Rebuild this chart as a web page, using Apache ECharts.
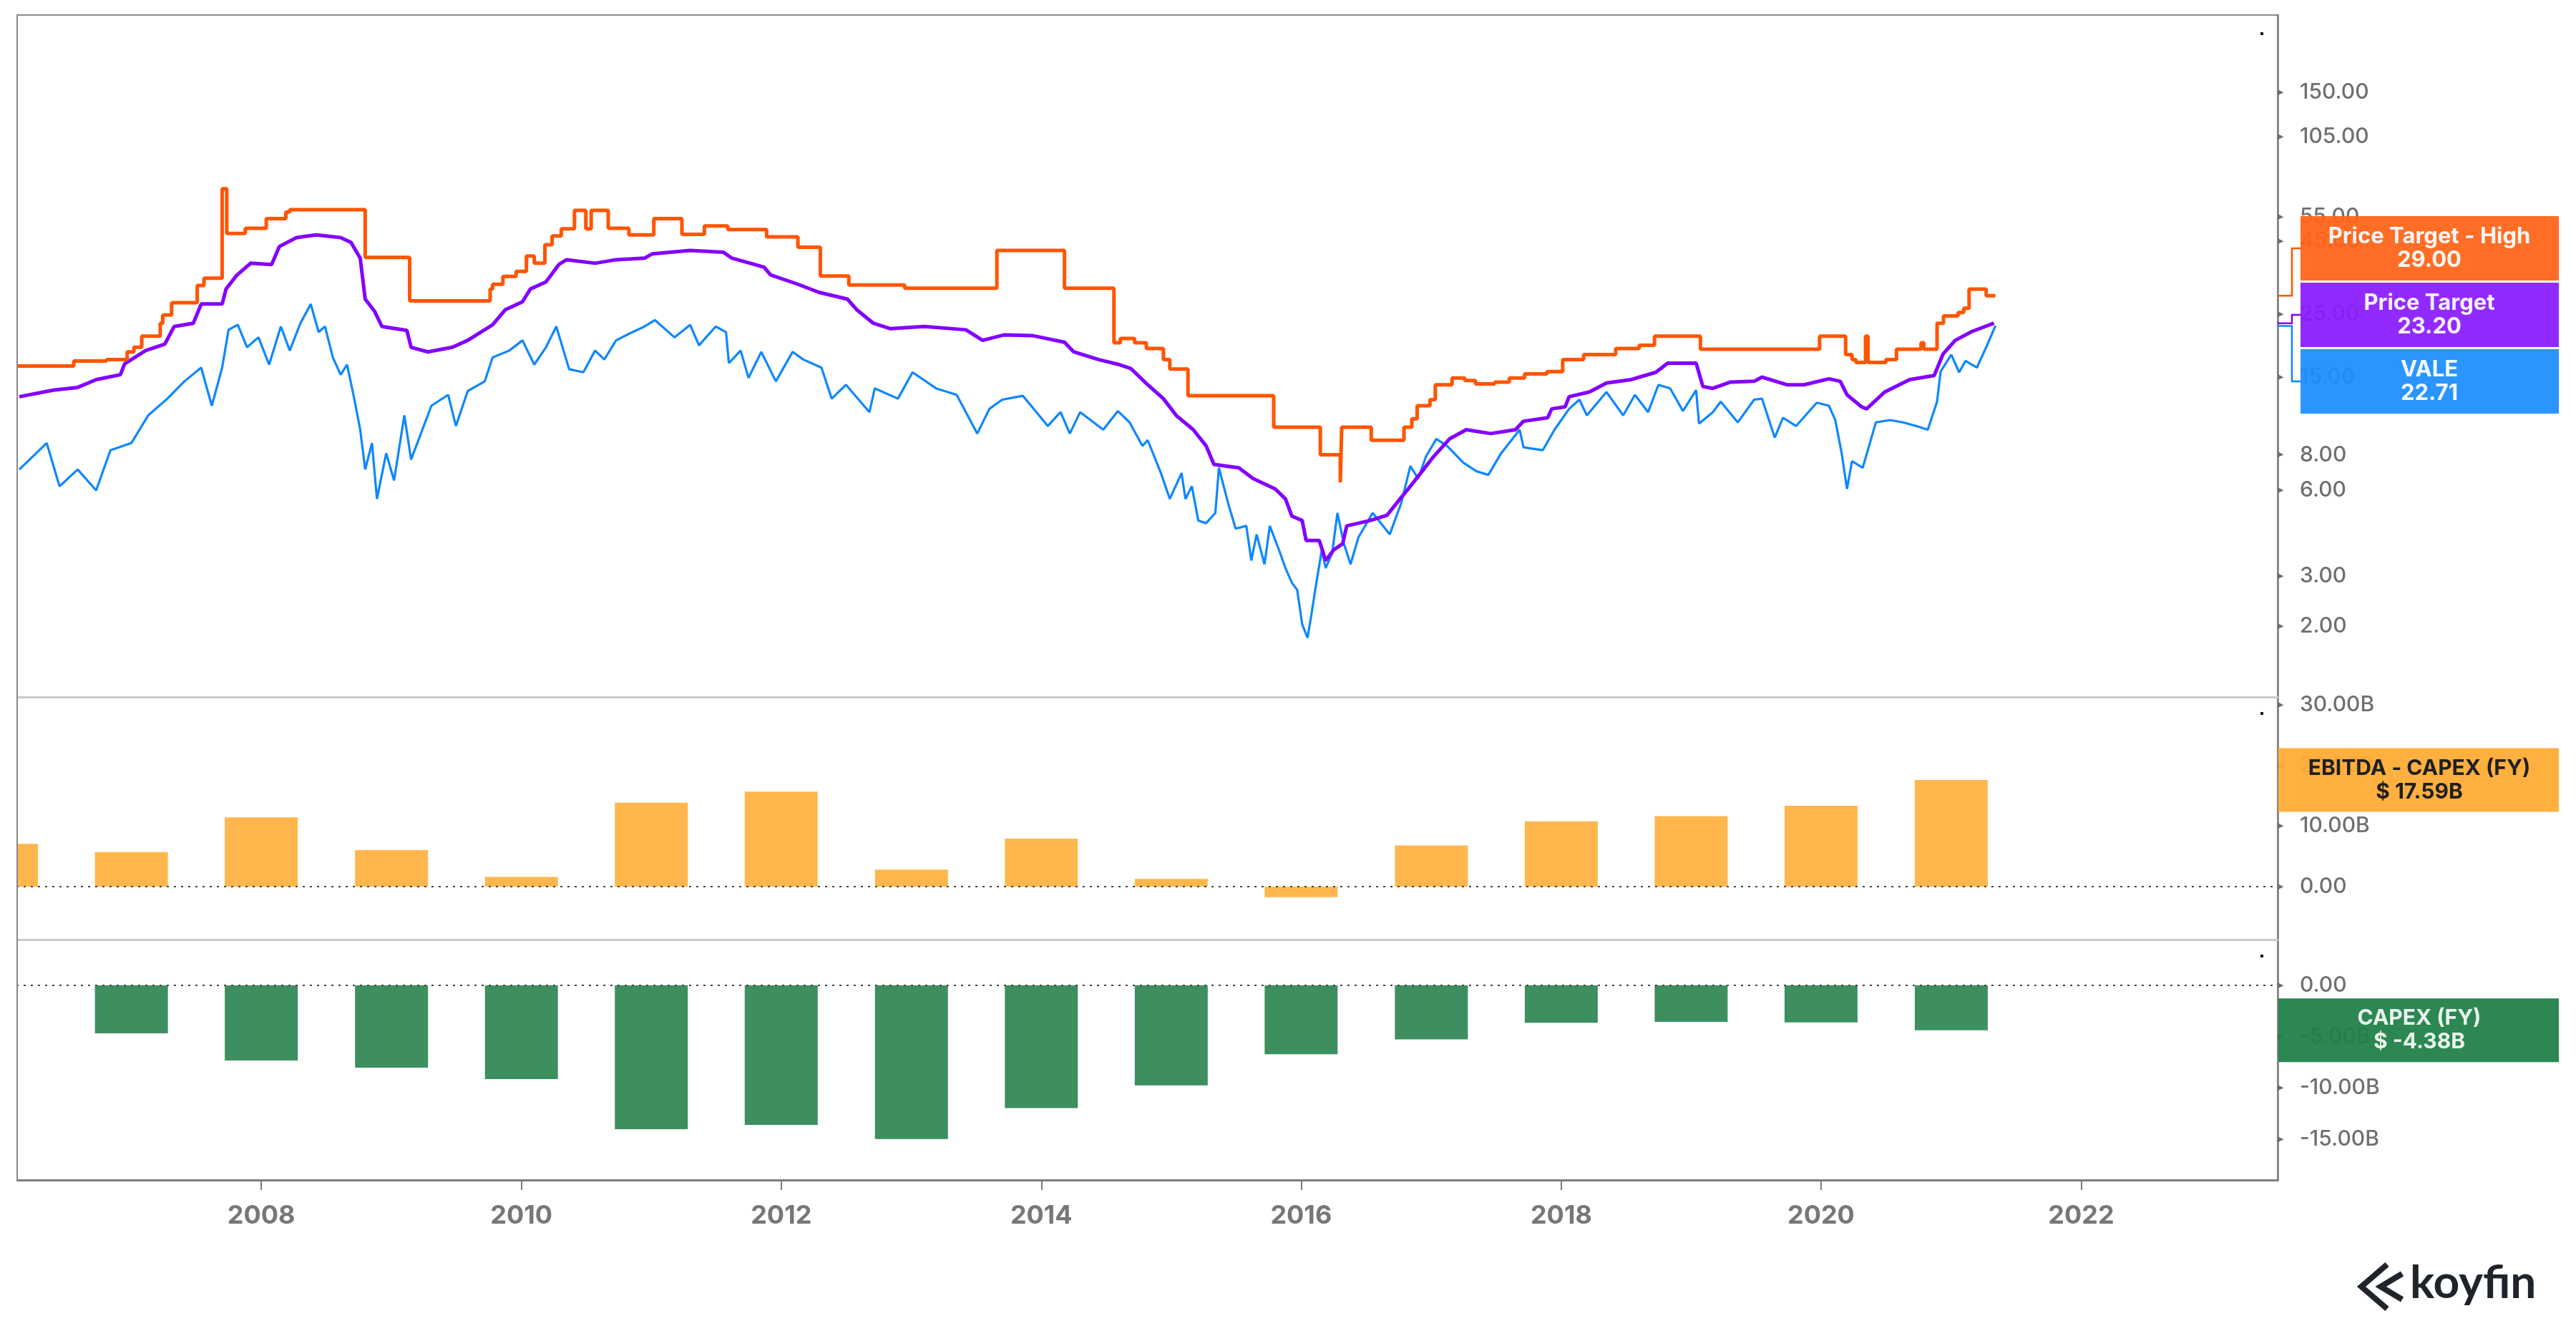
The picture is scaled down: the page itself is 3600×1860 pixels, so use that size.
<!DOCTYPE html>
<html><head><meta charset="utf-8">
<script src="https://cdn.jsdelivr.net/npm/echarts@6/dist/echarts.min.js"></script>
<style>html,body{margin:0;padding:0;background:#fff}#c{width:3600px;height:1860px}</style>
</head><body><div id="c"></div><script>
// ---------- DATA ----------
const valePrice = [
['2006-02-20',7.1],['2006-05-08',8.8],['2006-06-13',6.2],['2006-08-03',7.1],['2006-09-24',6.0],['2006-11-03',8.3],
['2007-01-01',8.8],['2007-02-17',11.0],['2007-04-12',12.6],['2007-05-30',14.5],['2007-07-16',16.2],['2007-08-15',11.9],
['2007-09-13',16.2],['2007-10-01',22.0],['2007-10-27',22.9],['2007-11-22',19.1],['2007-12-24',20.7],['2008-01-23',16.6],
['2008-02-25',22.6],['2008-03-21',18.6],['2008-04-20',23.2],['2008-05-19',27.1],['2008-06-10',21.6],['2008-06-28',22.6],
['2008-07-20',17.6],['2008-08-11',15.3],['2008-08-29',16.6],['2008-09-16',13.0],['2008-10-05',9.8],['2008-10-19',7.1],
['2008-11-07',8.8],['2008-11-21',5.6],['2008-12-17',8.1],['2009-01-08',6.5],['2009-02-06',11.0],['2009-02-25',7.7],
['2009-04-23',11.9],['2009-06-09',13.0],['2009-07-01',10.1],['2009-08-03',13.4],['2009-09-20',14.5],['2009-10-12',17.6],
['2009-11-28',18.6],['2010-01-04',20.2],['2010-02-06',16.6],['2010-03-11',19.1],['2010-04-09',22.6],['2010-05-15',16.0],
['2010-06-24',15.6],['2010-07-27',18.6],['2010-08-22',17.3],['2010-09-24',20.2],['2010-10-30',21.3],['2010-12-13',22.6],
['2011-01-11',23.8],['2011-03-07',20.7],['2011-04-20',22.9],['2011-05-15',19.4],['2011-07-01',22.6],['2011-07-30',21.6],
['2011-08-07',16.8],['2011-09-09',18.6],['2011-10-01',14.9],['2011-11-06',18.4],['2011-12-17',14.5],['2012-02-02',18.4],
['2012-03-03',17.3],['2012-04-23',16.2],['2012-05-22',12.6],['2012-07-01',14.1],['2012-09-05',11.3],['2012-09-20',13.7],
['2012-11-24',12.6],['2013-01-04',15.6],['2013-03-11',13.7],['2013-05-08',13.0],['2013-07-05',9.5],['2013-08-08',11.6],
['2013-09-13',12.5],['2013-11-10',12.9],['2014-01-19',10.1],['2014-02-24',11.3],['2014-03-22',9.5],['2014-04-20',11.3],
['2014-06-24',9.8],['2014-08-04',11.4],['2014-09-06',10.4],['2014-10-12',8.6],['2014-10-27',9.0],['2014-12-03',6.9],
['2014-12-28',5.6],['2015-01-30',6.9],['2015-02-10',5.6],['2015-02-28',6.2],['2015-03-18',4.7],['2015-04-09',4.6],
['2015-05-05',5.0],['2015-05-15',7.2],['2015-06-10',5.4],['2015-07-01',4.4],['2015-07-31',4.5],['2015-08-14',3.4],
['2015-08-29',4.2],['2015-09-20',3.3],['2015-10-05',4.5],['2015-10-31',3.7],['2015-11-18',3.2],['2015-12-06',2.84],
['2015-12-21',2.68],['2016-01-04',2.03],['2016-01-19',1.82],['2016-01-30',2.2],['2016-02-10',2.7],['2016-02-28',3.7],
['2016-03-10',3.2],['2016-03-28',3.6],['2016-04-12',5.0],['2016-04-30',3.9],['2016-05-19',3.3],['2016-06-10',4.1],
['2016-07-20',5.0],['2016-09-06',4.2],['2016-10-08',5.4],['2016-11-03',7.3],['2016-11-25',6.6],['2016-12-17',7.9],
['2017-01-15',9.1],['2017-02-14',8.6],['2017-04-01',7.5],['2017-05-08',7.0],['2017-06-10',6.8],['2017-07-16',8.1],
['2017-09-06',9.8],['2017-09-17',8.5],['2017-11-10',8.3],['2017-12-13',9.8],['2018-01-23',11.6],['2018-02-21',12.5],
['2018-03-14',11.0],['2018-05-08',13.3],['2018-06-24',11.0],['2018-07-27',13.0],['2018-09-02',11.3],['2018-10-01',14.1],
['2018-11-03',13.7],['2018-12-09',11.4],['2019-01-15',13.5],['2019-01-23',10.3],['2019-03-03',11.3],['2019-03-25',12.3],
['2019-05-12',10.4],['2019-06-27',12.5],['2019-07-19',12.6],['2019-08-24',9.2],['2019-09-16',10.8],['2019-10-23',10.1],
['2019-12-20',12.2],['2020-01-23',11.9],['2020-02-10',10.6],['2020-02-28',8.1],['2020-03-14',6.07],['2020-03-28',7.6],
['2020-04-27',7.2],['2020-05-15',8.6],['2020-06-03',10.4],['2020-07-13',10.6],['2020-08-18',10.4],['2020-09-24',10.1],
['2020-10-27',9.8],['2020-11-22',12.3],['2020-12-02',15.7],['2021-01-01',18.0],['2021-01-23',15.6],['2021-02-10',17.1],
['2021-03-14',16.2],['2021-04-09',19.1],['2021-05-05',22.71]
];
const priceTarget = [
['2006-02-20',12.8],['2006-05-26',13.5],['2006-08-03',13.8],['2006-09-24',14.7],['2006-12-01',15.3],['2006-12-13',16.7],
['2007-02-10',18.6],['2007-04-05',19.6],['2007-05-01',22.6],['2007-06-24',23.2],['2007-07-16',27.1],['2007-09-13',27.1],
['2007-09-24',30.6],['2007-10-23',34.1],['2007-12-02',37.7],['2008-01-30',37.3],['2008-02-21',43.2],['2008-04-09',46.4],
['2008-06-03',47.4],['2008-08-11',46.4],['2008-09-09',44.6],['2008-10-05',39.3],['2008-10-19',28.2],['2008-11-14',25.6],
['2008-12-05',22.6],['2009-02-13',21.9],['2009-02-25',19.1],['2009-04-13',18.4],['2009-06-21',19.1],['2009-08-03',20.2],
['2009-10-12',22.9],['2009-11-17',25.9],['2010-01-04',27.6],['2010-01-26',30.6],['2010-03-11',32.4],['2010-04-16',37.3],
['2010-05-08',38.8],['2010-07-27',37.7],['2010-09-24',38.8],['2010-12-13',39.3],['2011-01-04',40.7],['2011-04-20',41.8],
['2011-07-23',41.2],['2011-08-15',39.3],['2011-11-14',36.5],['2011-12-02',34.3],['2012-02-17',31.8],['2012-04-16',29.8],
['2012-07-05',28.2],['2012-07-31',25.9],['2012-09-16',23.2],['2012-11-03',22.2],['2013-02-06',22.6],['2013-06-03',22.0],
['2013-07-20',20.2],['2013-09-17',21.1],['2013-12-06',21.0],['2014-03-07',19.9],['2014-04-02',18.4],['2014-06-10',17.3],
['2014-08-08',16.6],['2014-09-09',16.1],['2014-10-27',14.1],['2014-12-10',12.6],['2015-01-15',11.0],['2015-03-04',9.8],
['2015-04-09',8.6],['2015-05-01',7.4],['2015-07-10',7.2],['2015-08-19',6.6],['2015-10-20',6.07],['2015-11-18',5.6],
['2015-12-06',4.87],['2016-01-04',4.7],['2016-01-15',4.0],['2016-02-21',4.0],['2016-03-10',3.4],['2016-04-01',3.7],
['2016-04-27',3.9],['2016-05-08',4.5],['2016-07-13',4.7],['2016-08-29',4.9],['2016-10-05',5.6],['2016-11-03',6.2],
['2016-12-02',6.9],['2017-01-04',7.8],['2017-02-21',9.1],['2017-04-09',9.8],['2017-06-17',9.5],['2017-08-25',9.8],
['2017-09-17',10.5],['2017-11-24',10.8],['2017-12-05',11.6],['2018-01-12',11.8],['2018-01-23',12.8],['2018-03-21',13.3],
['2018-05-08',14.3],['2018-07-16',14.7],['2018-09-24',15.6],['2018-10-27',16.8],['2019-01-15',16.8],['2019-02-03',13.9],
['2019-03-03',13.7],['2019-04-20',14.4],['2019-06-27',14.5],['2019-07-19',15.0],['2019-09-27',14.1],['2019-11-14',14.1],
['2020-01-23',14.8],['2020-02-24',14.5],['2020-03-14',13.0],['2020-04-24',11.8],['2020-05-08',11.6],['2020-06-28',13.3],
['2020-09-06',14.7],['2020-11-14',15.2],['2020-12-09',18.1],['2021-01-12',20.2],['2021-02-28',21.7],['2021-05-01',23.2]
];
const priceTargetHigh = [
['2006-02-12',16.4],['2006-07-23',17.1],['2006-10-23',17.3],['2006-12-20',18.4],['2007-01-08',19.1],['2007-01-30',20.9],
['2007-03-23',23.2],['2007-03-30',24.8],['2007-04-24',27.4],['2007-07-05',31.5],['2007-07-24',33.4],['2007-09-13',68.9],
['2007-09-26',48.0],['2007-11-17',50.0],['2008-01-15',54.1],['2008-03-10',57.1],['2008-03-21',58.2],['2008-10-19',39.5],
['2009-02-21',27.8],['2009-10-05',30.6],['2009-10-12',31.8],['2009-11-10',33.9],['2009-12-17',35.3],['2010-01-15',40.0],
['2010-02-06',37.7],['2010-03-08',43.8],['2010-03-28',47.0],['2010-04-23',49.8],['2010-05-30',57.8],['2010-07-01',49.8],
['2010-07-16',57.8],['2010-09-02',50.0],['2010-10-30',47.4],['2011-01-08',54.1],['2011-03-28',47.6],['2011-05-30',51.0],
['2011-08-04',49.5],['2011-11-21',46.7],['2012-02-17',42.9],['2012-04-20',34.0],['2012-07-09',31.6],['2012-12-13',30.8],
['2013-08-29',41.8],['2014-03-07',30.8],['2014-07-24',19.8],['2014-08-11',20.5],['2014-09-20',19.8],['2014-10-23',18.9],
['2014-12-10',17.3],['2014-12-28',16.0],['2015-02-17',12.9],['2015-10-16',10.0],['2016-02-24',8.0],['2016-04-20',6.4],
['2016-04-24',10.0],['2016-07-16',9.0],['2016-10-16',10.0],['2016-11-07',10.7],['2016-11-22',11.9],['2016-12-28',12.5],
['2017-01-12',14.1],['2017-02-28',14.9],['2017-04-05',14.6],['2017-05-05',14.2],['2017-06-28',14.4],['2017-08-08',14.9],
['2017-09-20',15.4],['2017-11-22',15.7],['2018-01-05',17.3],['2018-03-05',18.0],['2018-06-03',18.9],['2018-08-08',19.4],
['2018-09-20',20.9],['2019-01-27',18.8],['2019-12-28',20.9],['2020-03-10',18.0],['2020-03-28',17.3],['2020-04-08',16.9],
['2020-05-05',20.9],['2020-05-12',16.9],['2020-07-01',17.3],['2020-07-31',18.8],['2020-10-08',19.8],['2020-10-16',18.8],
['2020-11-22',23.2],['2020-12-10',24.6],['2021-01-20',25.3],['2021-02-05',26.2],['2021-02-20',30.6],['2021-04-09',29.0],
['2021-05-05',29.0]
];
const fiscalDates = ['2006-01-01','2007-01-01','2008-01-01','2009-01-01','2010-01-01','2011-01-01','2012-01-01','2013-01-01',
  '2014-01-01','2015-01-01','2016-01-01','2017-01-01','2018-01-01','2019-01-01','2020-01-01','2021-01-01'];
const ebitdaMinusCapex = [7.06,5.70,11.44,6.02,1.59,13.84,15.69,2.81,7.91,1.28,-1.75,6.79,10.77,11.62,13.34,17.59];
const capex = [null,-4.68,-7.32,-8.02,-9.14,-14.03,-13.6,-14.98,-11.97,-9.75,-6.71,-5.26,-3.64,-3.55,-3.61,-4.38];
const priceTicks = [2,3,6,8,15,25,45,55,105,150];
const ebitdaTicks = [0,10,20,30];
const capexTicks = [0,-5,-10,-15];
const yearTicks = ['2008-01-01','2010-01-01','2012-01-01','2014-01-01','2016-01-01','2018-01-01','2020-01-01','2022-01-01'];

// ---------- CHART ----------
const FONT = 'Inter';
const ts = d => echarts.time.parse(d).getTime();
const toXY = arr => arr.map(p => [ts(p[0]), p[1]]);
const chart = echarts.init(document.getElementById('c'), null, {renderer:'canvas'});
const xMin = ts('2006-02-12'), xMax = ts('2023-07-07');
const AX = 3183;
const L = 23, R = 3600 - AX;
const yearVals = yearTicks.map(ts);
const bLabel = v => v === 0 ? '0.00' : v.toFixed(2) + 'B';
const richLab = (txt) => '{t|\u25B6}{v|' + txt + '}';
const rich = {
  t: {fontSize: 11, color: '#6f6f6f', width: 31, align: 'left', fontFamily: 'DejaVu Sans'},
  v: {fontSize: 30, color: '#6f6f6f', fontFamily: FONT, fontWeight: 500}
};
function xAx(i, last) {
  return {
    type: 'value', gridIndex: i, min: xMin, max: xMax, scale: true,
    axisLine: {show: true, onZero: false, lineStyle: last ? {color: '#7d7d7d', width: 3} : {color: '#cbcbcb', width: 3}},
    axisTick: last ? {show: true, length: 14, lineStyle: {color: '#7d7d7d', width: 2}, customValues: yearVals} : {show: false},
    axisLabel: last ? {show: true, customValues: yearVals, margin: 32, color: '#777', fontSize: 36, fontWeight: 700, fontFamily: FONT,
      formatter: v => String(new Date(v).getFullYear())} : {show: false},
    splitLine: {show: false}
  };
}
function yAx(i, type, min, max, ticks, fmt) {
  return {
    type: type, gridIndex: i, position: 'right', min: min, max: max, logBase: 10,
    axisLine: {show: true, onZero: false, lineStyle: {color: '#888', width: 3}},
    axisTick: {show: false},
    splitLine: {show: false},
    axisLabel: {show: true, customValues: ticks, margin: 0, formatter: v => richLab(fmt(v)), rich: rich}
  };
}
const zeroLine = {
  silent: true, symbol: 'none', label: {show: false},
  lineStyle: {type: [3, 7], color: '#444', width: 2.2},
  data: [{yAxis: 0}]
};
const option = {
  animation: false,
  backgroundColor: '#fff',
  textStyle: {fontFamily: FONT},
  grid: [
    {left: L, right: R, top: 21, height: 953},
    {left: L, right: R, top: 974, height: 339},
    {left: L, right: R, top: 1313, height: 336}
  ],
  xAxis: [xAx(0, false), xAx(1, false), xAx(2, true)],
  yAxis: [
    yAx(0, 'log', 1.127, 281, priceTicks, v => v.toFixed(2)),
    yAx(1, 'value', -8.74, 31.3, ebitdaTicks, bLabel),
    yAx(2, 'value', -18.98, 4.47, capexTicks, bLabel)
  ],
  series: [
    {name: 'VALE', type: 'line', xAxisIndex: 0, yAxisIndex: 0, data: toXY(valePrice), showSymbol: false, symbol: 'none',
      lineStyle: {color: '#0d87ff', width: 3.2}, z: 3},
    {name: 'Price Target', type: 'line', xAxisIndex: 0, yAxisIndex: 0, data: toXY(priceTarget), showSymbol: false, symbol: 'none',
      lineStyle: {color: '#8300ff', width: 5}, z: 4},
    {name: 'Price Target - High', type: 'line', step: 'end', xAxisIndex: 0, yAxisIndex: 0, data: toXY(priceTargetHigh), showSymbol: false, symbol: 'none',
      lineStyle: {color: '#ff5500', width: 5}, z: 5},
    {name: 'EBITDA - CAPEX (FY)', type: 'bar', xAxisIndex: 1, yAxisIndex: 1, barWidth: 102, clip: true,
      data: fiscalDates.map((d, k) => [ts(d), ebitdaMinusCapex[k]]), itemStyle: {color: '#ffb74d'}, markLine: zeroLine},
    {name: 'CAPEX (FY)', type: 'bar', xAxisIndex: 2, yAxisIndex: 2, barWidth: 102, clip: true,
      data: fiscalDates.map((d, k) => [ts(d), capex[k]]), itemStyle: {color: '#3d8f60'}, markLine: zeroLine}
  ]
};
chart.setOption(option);

// ---------- FRAME + LAST-VALUE LABEL BOXES ----------
const last = a => a[a.length - 1];
const g = [];
g.push({type: 'rect', shape: {x: 0, y: 900, width: 23, height: 760}, style: {fill: '#fff'}, z: 49});
g.push({type: 'line', shape: {x1: 24, y1: 21, x2: 24, y2: 1649}, style: {stroke: '#888', lineWidth: 2}, z: 50});
g.push({type: 'line', shape: {x1: 23, y1: 21, x2: AX, y2: 21}, style: {stroke: '#8c8c8c', lineWidth: 2}, z: 50});
[45, 995, 1334].forEach(y => g.push({type: 'rect', shape: {x: 3159, y: y, width: 4, height: 4}, style: {fill: '#111'}, z: 50}));

const priceBoxes = [
  {name: 'Price Target - High', v: last(priceTargetHigh)[1], fill: '#ff6216', line: '#ff5500'},
  {name: 'Price Target', v: last(priceTarget)[1], fill: '#8a1aff', line: '#8300ff'},
  {name: 'VALE', v: last(valePrice)[1], fill: '#1a8cff', line: '#0d87ff'}
];
const BH = 90, GAP = 3;
priceBoxes.forEach(b => b.py = chart.convertToPixel({yAxisIndex: 0}, b.v));
const mean = priceBoxes.reduce((s, b) => s + b.py, 0) / priceBoxes.length;
const top0 = mean - (priceBoxes.length * BH + (priceBoxes.length - 1) * GAP) / 2;
priceBoxes.forEach((b, k) => {
  const top = top0 + k * (BH + GAP);
  const cy = top + BH / 2;
  g.push({type: 'polyline', shape: {points: [[AX, b.py], [3203, b.py], [3203, cy], [3217, cy]]},
    style: {stroke: b.line, lineWidth: 2.5, fill: null}, z: 60});
  g.push({type: 'rect', shape: {x: 3215, y: top, width: 361, height: BH}, style: {fill: b.fill, opacity: 0.93}, z: 61});
  g.push({type: 'text', x: 3395, y: cy, style: {text: b.name + '\n' + b.v.toFixed(2), fill: '#fff', opacity: 0.94,
    font: '700 31px "Inter"', align: 'center', verticalAlign: 'middle', lineHeight: 33}, z: 62});
});
const barBoxes = [
  {axis: 1, name: 'EBITDA - CAPEX (FY)', v: last(ebitdaMinusCapex), fill: '#ffab33', text: '#1f1f1f'},
  {axis: 2, name: 'CAPEX (FY)', v: last(capex), fill: '#1f7f47', text: '#e9f3ec'}
];
barBoxes.forEach(b => {
  const cy = chart.convertToPixel({yAxisIndex: b.axis}, b.v);
  g.push({type: 'rect', shape: {x: AX + 1, y: cy - 44.5, width: 392, height: 89}, style: {fill: b.fill, opacity: 0.94}, z: 61});
  g.push({type: 'text', x: 3381, y: cy, style: {text: b.name + '\n$ ' + b.v.toFixed(2) + 'B', fill: b.text,
    font: '700 30px "Inter"', align: 'center', verticalAlign: 'middle', lineHeight: 33}, z: 62});
});
g.push({type: 'polyline', shape: {points: [[3336, 1767], [3300, 1798], [3336, 1829]]}, style: {stroke: '#1f242b', lineWidth: 8, fill: null}, z: 60});
g.push({type: 'polyline', shape: {points: [[3357, 1780], [3327, 1798], [3357, 1816]]}, style: {stroke: '#1f242b', lineWidth: 8, fill: null}, z: 60});
g.push({type: 'text', x: 3368, y: 1793, style: {text: 'koyfin', fill: '#1f242b', font: '700 64px "Lato"', align: 'left', verticalAlign: 'middle'}, z: 60});

chart.setOption({graphic: {elements: g}});
</script></body></html>
